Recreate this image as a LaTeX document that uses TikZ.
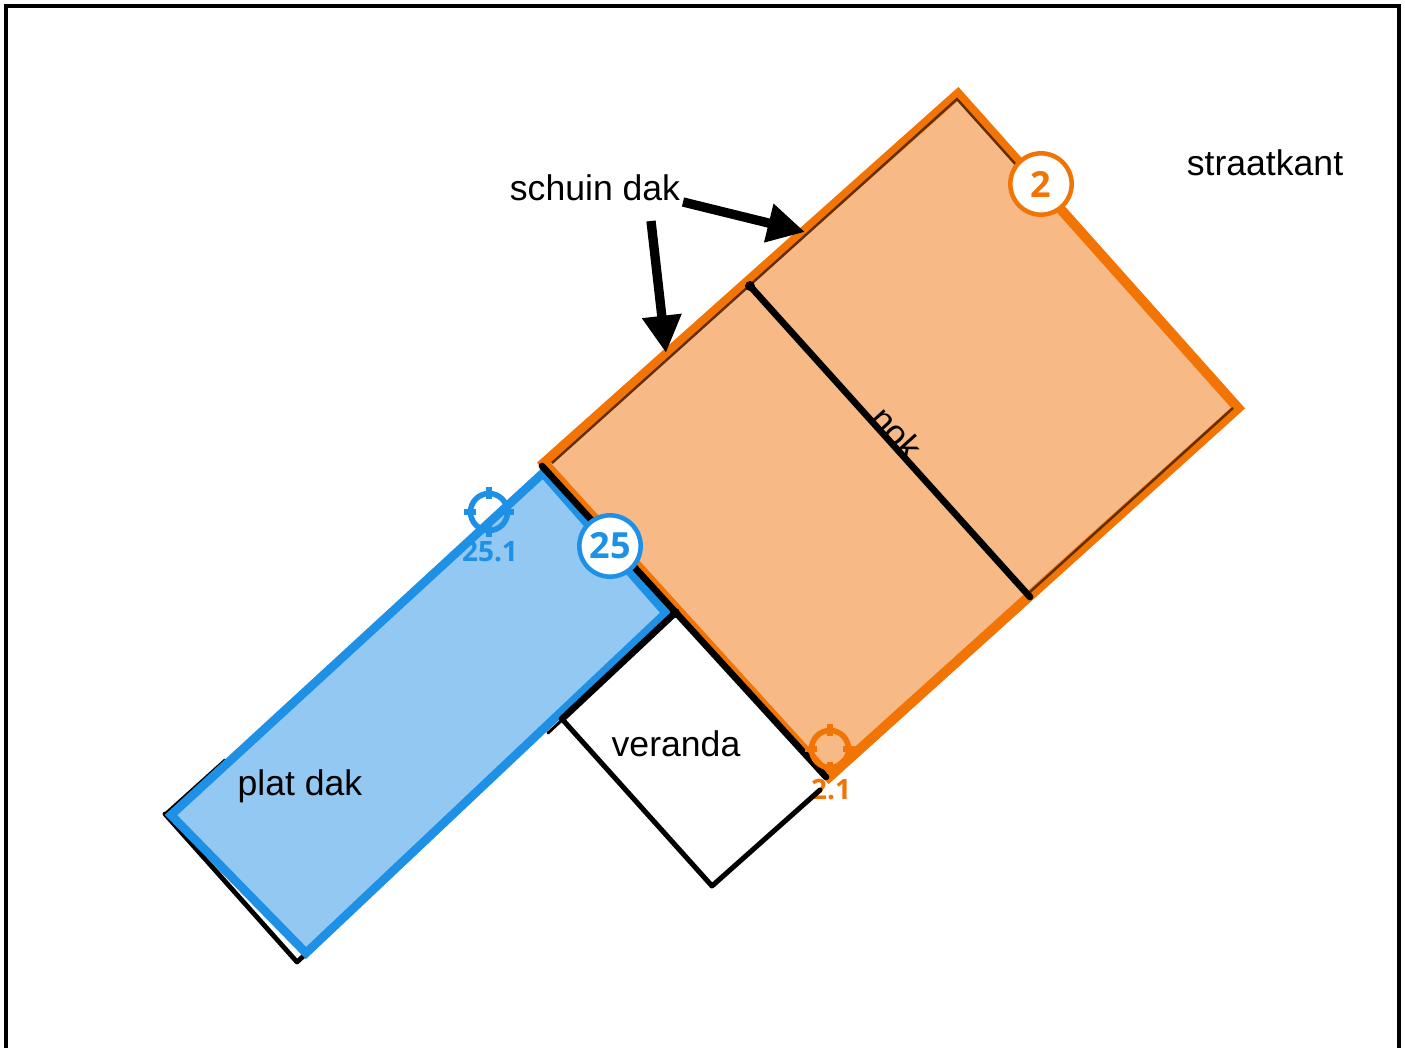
\documentclass[tikz,border=0pt]{standalone}
\usepackage{xcolor}
\usepackage{fontspec}
\setmainfont{Liberation Sans}
\newfontfamily\markfont{Open Sans}
\usetikzlibrary{arrows.meta}
\definecolor{roofOrange}{HTML}{F27405}
\definecolor{roofBlue}{HTML}{1E90E6}
\definecolor{fillOrange}{HTML}{F7B985}
\definecolor{fillBlue}{HTML}{92C8F1}
\tikzset{
  plainlabel/.style={inner sep=0pt, font=\fontsize{26.7}{30}\selectfont},
  badge/.style={draw=#1, text=#1, fill=white, circle, line width=3.4pt, minimum size=46pt, inner sep=0pt,
    font=\markfont\bfseries\fontsize{27}{30}\selectfont},
  marktext/.style={text=#1, inner sep=0pt, font=\markfont\bfseries\fontsize{21}{23}\selectfont},
  wall/.style={black, line width=5pt, line cap=round, line join=round},
  thinwall/.style={black, line width=3.6pt, line cap=round, line join=round},
  pointer/.style={black, line width=7pt, -{Triangle[length=28pt,width=28pt]}},
  target/.pic={
    \draw[line width=4.2pt] (0,0) circle (18.5);
    \foreach \a in {0,90,180,270}
      \draw[line width=4.2pt] (\a:13) -- (\a:25);
  }
}
\begin{document}
\begin{tikzpicture}[x=0.75pt, y=-0.75pt]
\useasboundingbox (0,0) rectangle (1405,1048);
\draw[black, line width=2.4pt] (6,1048) -- (6,6) -- (1399,6) -- (1399,1048);

\coordinate (top) at (958,94);
\coordinate (right) at (1238,408);
\coordinate (bottom) at (829,777);
\coordinate (left) at (544,463);
\coordinate (blueTop) at (543,473);
\coordinate (blueRight) at (666,613);
\coordinate (blueBottom) at (306,953);
\coordinate (blueLeft) at (171,815);

% under the roofs
\draw[thinwall] (165,814) -- (297,962) -- (310,950);
\draw[thinwall, line width=2.2pt] (165,814) -- (225,760);
\draw[thinwall, line width=2.2pt] (548,733) -- (562,720);

% roofs
\filldraw[fill=fillOrange, draw=roofOrange, line width=7.5pt, miter limit=10] (top) -- (right) -- (bottom) -- (left) -- cycle;
\draw[black!60!roofOrange, line width=1.8pt] (552,463) -- (957,99) -- (1018,167);
\draw[black!60!roofOrange, line width=1.8pt] (1233,408) -- (1030,592);
\filldraw[fill=fillBlue, draw=roofBlue, line width=6.5pt, miter limit=10] (blueTop) -- (blueRight) -- (blueBottom) -- (blueLeft) -- cycle;

\node[marktext=roofOrange] (mark2) at (831,790) {2.1};
\node[marktext=roofBlue] (mark25) at (490,552) {25.1};

% walls
\coordinate (wallTop) at (542,466);
\coordinate (wallEnd) at (826,777);
\coordinate (wallJoin) at (675,613);
\coordinate (verandaLeft) at (562,719);
\coordinate (verandaLow) at (712,886);
\coordinate (verandaRight) at (820,790);
\coordinate (ridgeTop) at (750,286);
\coordinate (ridgeEnd) at (1030,597);
\draw[wall] (wallTop) -- (wallEnd);
\draw[wall] (ridgeTop) -- (ridgeEnd);
\fill (ridgeTop) circle (5);
\fill (wallJoin) circle (5);
\draw[wall] (wallJoin) -- (verandaLeft);
\draw[wall, line width=3.8pt] (verandaLeft) -- (verandaLow) -- (verandaRight);

\pic[roofBlue] at (489,512) {target};
\pic[roofOrange] at (830,749) {target};

\node[badge=roofOrange] (badge2) at (1041,184) {2};
\node[badge=roofBlue] (badge25) at (610,546) {25};

\node[plainlabel] (street) at (1265,163) {straatkant};
\node[plainlabel] (slanted) at (595,188) {schuin dak};
\node[plainlabel] (flat) at (300,786) {plat dak};
\node[plainlabel] (porch) at (676,744) {veranda};
\node[plainlabel, rotate=-48] (ridge) at (897,433) {nok};

\coordinate (arrowA) at (805,232);
\coordinate (arrowB) at (666,353);
\draw[pointer] (683,202) -- (arrowA);
\draw[pointer] (651,221) -- (arrowB);
\end{tikzpicture}
\end{document}
